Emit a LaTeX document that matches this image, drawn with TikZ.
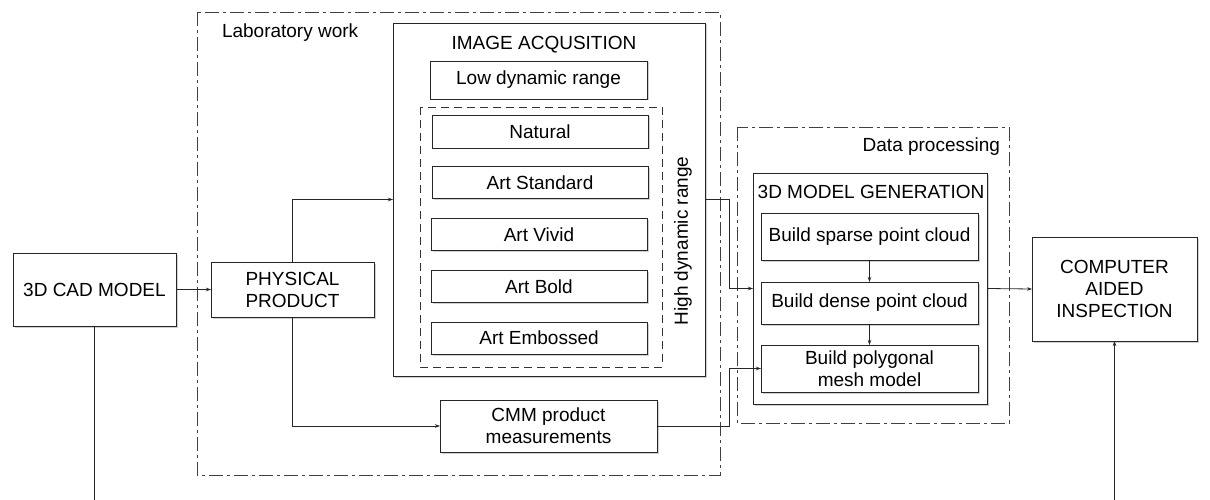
\documentclass[tikz,border=0pt]{standalone}
\usepackage{fontspec}
\setmainfont{Liberation Sans}
\usetikzlibrary{arrows.meta,shadows}
\begin{document}
\begin{tikzpicture}[x=1pt,y=-1pt,
  every node/.style={font=\fontsize{19}{22}\selectfont, inner sep=0pt, outer sep=0pt},
  box/.style={draw=black!85, line width=0.9pt, fill=white, align=center,
    drop shadow={shadow xshift=1.5pt, shadow yshift=-1.5pt, fill=black!18, opacity=1}},
  dashdot/.style={draw=black!75, line width=0.9pt, dash pattern=on 14pt off 4pt on 3pt off 4pt},
  dashbox/.style={draw=black!80, line width=0.9pt, dash pattern=on 8pt off 5pt},
  conn/.style={draw=black!85, line width=0.8pt},
  arr/.style={conn, -{Stealth[length=5pt,width=3.5pt]}},
  lbl/.style={align=center}
]
\useasboundingbox (0,0) rectangle (1210,500);

% group frames
\draw[dashdot] (197,12) rectangle (720,475);
\node[anchor=west] (labtxt) at (222,33) {Laboratory work};
\draw[dashdot] (737,127) rectangle (1009,423);
\node[anchor=east] (dptxt) at (1000,147) {Data processing};

% left boxes
\node[box, minimum width=163pt, minimum height=73pt] (cad) at (94.5,289.5) {3D CAD MODEL};
\node[box, minimum width=163pt, minimum height=55pt] (pp) at (292.5,289.5) {PHYSICAL\\PRODUCT};

% image acquisition
\node[box, minimum width=312pt, minimum height=353pt] (img) at (549,199.5) {};
\node[lbl] (imgtitle) at (544,45) {IMAGE ACQUSITION};
\node[box, minimum width=217pt, minimum height=38pt] (low) at (538.5,80) {Low dynamic range};
\draw[dashbox] (420,107) rectangle (662,367);
\node[box, minimum width=216pt, minimum height=33pt] (nat) at (540,131.5) {Natural};
\node[box, minimum width=216pt, minimum height=32pt] (std) at (540,182.5) {Art Standard};
\node[box, minimum width=216pt, minimum height=32pt] (viv) at (539,234.5) {Art Vivid};
\node[box, minimum width=216pt, minimum height=32pt] (bold) at (539,286.5) {Art Bold};
\node[box, minimum width=216pt, minimum height=32pt] (emb) at (539,338) {Art Embossed};
\node[rotate=90] (hdr) at (683,241) {High dynamic range};

% CMM
\node[box, minimum width=217pt, minimum height=52pt] (cmm) at (548.5,426) {CMM product\\measurements};

% 3D model generation
\node[box, minimum width=234pt, minimum height=231pt] (gen) at (870,288.5) {};
\node[lbl] (gentitle) at (871,192) {3D MODEL GENERATION};
\node[box, minimum width=217pt, minimum height=47pt] (sparse) at (869.5,236.5) {Build sparse point cloud};
\node[box, minimum width=217pt, minimum height=42pt] (dense) at (869.5,303) {Build dense point cloud};
\node[box, minimum width=217pt, minimum height=47pt] (poly) at (869.5,368.5) {Build polygonal\\mesh model};

% CAI
\node[box, minimum width=165pt, minimum height=104pt] (cai) at (1114.5,289) {COMPUTER\\AIDED\\INSPECTION};

% helper coordinates
\coordinate (jx) at (729,0);
\coordinate (bot) at (0,500);

% connectors
\draw[arr] (cad.east) -- (pp.west);
\draw[arr] (pp.north) |- (img.west);
\draw[arr] (pp.south) |- (cmm.west);
\draw[arr] (img.east) -- (img.east -| jx) |- (gen.west);
\draw[arr] (cmm.east) -- (cmm.east -| jx) |- (poly.west);
\draw[arr] (sparse.south) -- (dense.north);
\draw[arr] (dense.south) -- (poly.north);
\draw[arr] (gen.east) -- (cai.west);
\draw[conn] (cad.south) -- (cad.south |- bot);
\draw[arr] (cai.south |- bot) -- (cai.south);
\end{tikzpicture}
\end{document}
